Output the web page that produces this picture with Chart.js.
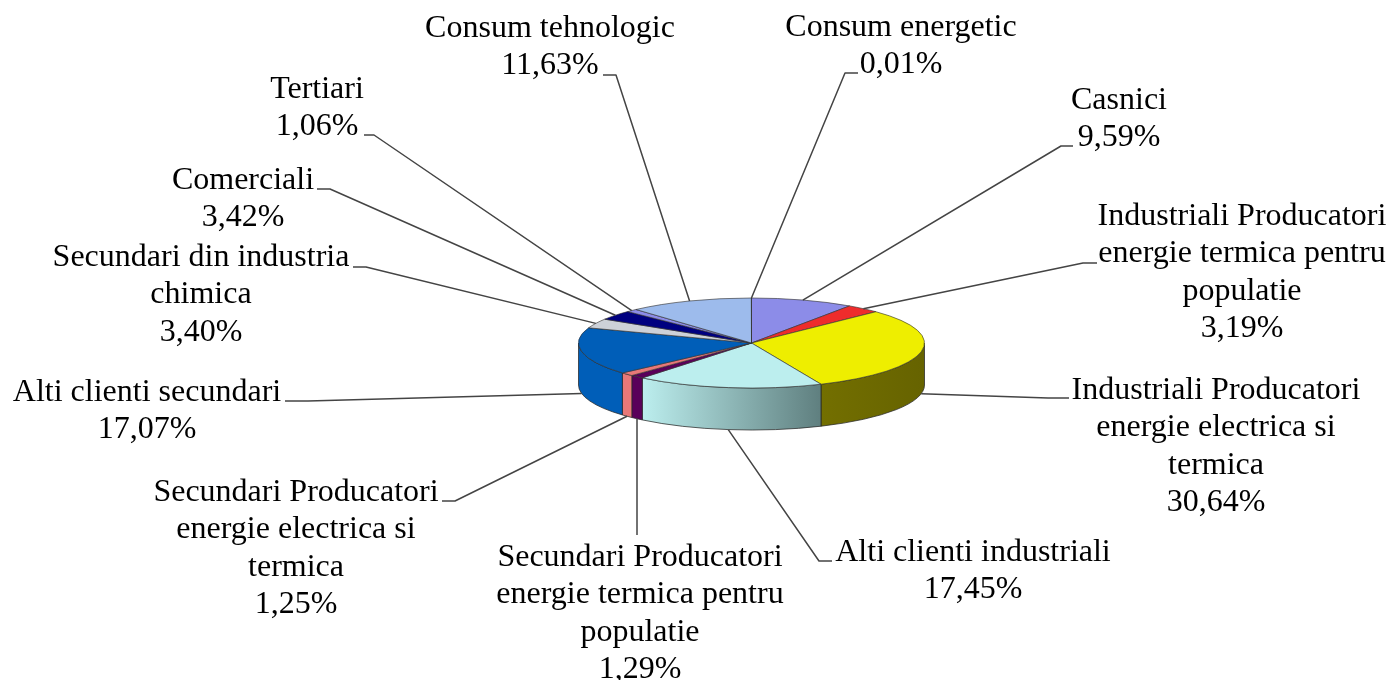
<!DOCTYPE html>
<html><head><meta charset="utf-8">
<style>html,body{margin:0;padding:0;background:#fff}canvas{display:block}</style>
<script src="https://cdn.jsdelivr.net/npm/chart.js@4/dist/chart.umd.min.js"></script>
</head><body>
<canvas id="c" width="1390" height="680"></canvas>
<script>
const categories = ['Casnici','Industriali Producatori energie termica pentru populatie','Industriali Producatori energie electrica si termica','Alti clienti industriali','Secundari Producatori energie termica pentru populatie','Secundari Producatori energie electrica si termica','Alti clienti secundari','Secundari din industria chimica','Comerciali','Tertiari','Consum tehnologic','Consum energetic'];
const values = [9.59,3.19,30.64,17.45,1.29,1.25,17.07,3.40,3.42,1.06,11.63,0.01];
const colors = ['#8C8CE8','#EE2C2C','#EEEE00','#BCEEEE','#5A005A','#E87878','#005EB8','#CDD1D8','#000080','#8C8CE8','#9DBBEC','#C0C0C0'];
const wallLeft = ['#666','#900','#736F00','#BCEEEE','#5A005A','#E87878','#005EB8','#888','#000080','#668','#678','#888'];
const wallRight = ['#666','#900','#666300','#5F7F7F','#5A005A','#E87878','#005EB8','#888','#000080','#668','#678','#888'];
const labelLines = [
 ['Casnici','9,59%'],
 ['Industriali Producatori','energie termica pentru','populatie','3,19%'],
 ['Industriali Producatori','energie electrica si','termica','30,64%'],
 ['Alti clienti industriali','17,45%'],
 ['Secundari Producatori','energie termica pentru','populatie','1,29%'],
 ['Secundari Producatori','energie electrica si','termica','1,25%'],
 ['Alti clienti secundari','17,07%'],
 ['Secundari din industria','chimica','3,40%'],
 ['Comerciali','3,42%'],
 ['Tertiari','1,06%'],
 ['Consum tehnologic','11,63%'],
 ['Consum energetic','0,01%']
];
const labelCenterX = [1119,1242,1216,973,640,296,147,201,243,317,550,901];
const labelBaseY = [109,225,399,561,566,501,401,266,189,98,37,36];
const elbowX = [1061,1083,1048,819,637,455,308,366,330,374,616,845];
const elbowY = [146,263,398,561,535,501,401,267,189,135,75,73];
const tailX = [1073,1097,1069,832,637,442,285,353,317,364,603,858];

const LINE_H = 37.4, RY = 45, DEPTH = 42;

function squash(ctx, a){
  const ratio = RY / a.outerRadius;
  ctx.translate(a.x, a.y); ctx.scale(1, ratio); ctx.translate(-a.x, -a.y);
}
const pie3d = {
  id:'pie3d',
  beforeDatasetsDraw(chart){
    const ctx = chart.ctx, arcs = chart.getDatasetMeta(0).data;
    arcs.forEach((a,i)=>{
      const s = Math.max(a.startAngle,0), e = Math.min(a.endAngle,Math.PI);
      if(e<=s) return;
      const R=a.outerRadius, x0=a.x+R*Math.cos(s), x1=a.x+R*Math.cos(e);
      const g=ctx.createLinearGradient(x1,0,x0,0);
      g.addColorStop(0,wallLeft[i]); g.addColorStop(1,wallRight[i]);
      ctx.save();
      ctx.beginPath();
      ctx.ellipse(a.x,a.y,R,RY,0,s,e,false);
      ctx.ellipse(a.x,a.y+DEPTH,R,RY,0,e,s,true);
      ctx.closePath();
      ctx.fillStyle=g; ctx.fill();
      ctx.strokeStyle='rgba(40,40,40,.75)'; ctx.lineWidth=1; ctx.stroke();
      ctx.restore();
    });
    ctx.save();
    squash(ctx, arcs[0]);
  },
  afterDatasetsDraw(chart){
    const ctx = chart.ctx, arcs = chart.getDatasetMeta(0).data;
    ctx.restore();
    ctx.save();
    ctx.strokeStyle='#444'; ctx.lineWidth=1.5; ctx.lineJoin='round';
    arcs.forEach((a,i)=>{
      const mid=(a.startAngle+a.endAngle)/2;
      const px=a.x+a.outerRadius*Math.cos(mid);
      let py=a.y+RY*Math.sin(mid);
      if(Math.sin(mid)>0) py+=DEPTH;
      ctx.beginPath();
      ctx.moveTo(px,py);
      ctx.lineTo(elbowX[i],elbowY[i]);
      ctx.lineTo(tailX[i],elbowY[i]);
      ctx.stroke();
    });
    ctx.fillStyle='#000';
    ctx.font='32px "Liberation Serif"';
    ctx.textAlign='center'; ctx.textBaseline='alphabetic';
    labelLines.forEach((lines,i)=>{
      lines.forEach((t,k)=>ctx.fillText(t,labelCenterX[i],labelBaseY[i]+k*LINE_H));
    });
    ctx.restore();
  }
};
new Chart(document.getElementById('c'),{
  type:'pie',
  data:{labels:categories,datasets:[{data:values,backgroundColor:colors,borderColor:'#333',borderWidth:1}]},
  options:{
    responsive:false,animation:false,
    layout:{padding:{left:578,right:465,top:169.5,bottom:163.5}},
    plugins:{legend:{display:false},tooltip:{enabled:false}}
  },
  plugins:[pie3d]
});
</script>
</body></html>
